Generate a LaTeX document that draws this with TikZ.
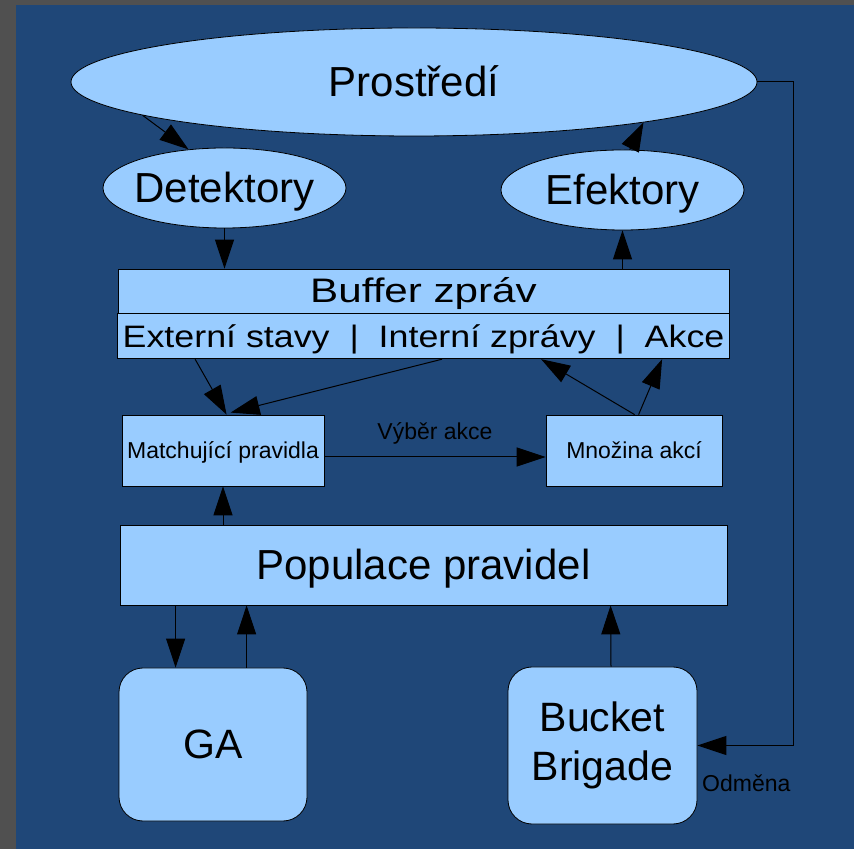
\documentclass[tikz,border=0pt]{standalone}
\usepackage{graphicx}
\usepackage{fontspec}
\setmainfont{Liberation Sans}
\usetikzlibrary{shapes.geometric, arrows.meta, positioning, calc}
\definecolor{SlideGray}{HTML}{505050}
\definecolor{SlideBlue}{HTML}{1F4778}
\definecolor{BoxBlue}{HTML}{99CCFF}
\tikzset{
    % Node styles
    ellnode/.style={
        ellipse,
        draw=black,
        fill=BoxBlue,
        line width=0.8pt,
        inner xsep=-20pt,
        inner ysep=0pt
    },
    flatbox/.style={
        rectangle,
        draw=black,
        fill=BoxBlue,
        line width=0.8pt,
        inner sep=0pt
    },
    roundbox/.style={
        rectangle,
        rounded corners=24pt,
        draw=black,
        fill=BoxBlue,
        line width=0.8pt,
        inner sep=0pt,
        align=center
    },
    % Text styles (box height = cap height)
    bigtext/.style={
        font=\fontsize{42}{50}\selectfont,
        text height=30pt,
        text depth=0pt
    },
    smalltext/.style={
        font=\fontsize{23}{27}\selectfont,
        text height=16.5pt,
        text depth=0pt
    },
    plainlabel/.style={
        smalltext,
        inner sep=0pt
    },
    % Arrow styles
    bigarrow/.style={
        -{Triangle[length=29pt,width=19pt]},
        line width=1pt,
        black
    }
}
\begin{document}
\begin{tikzpicture}[x=1pt,y=1pt]
    % Slide background
    \fill[SlideGray] (0,0) rectangle (854,849);
    \fill[SlideBlue] (16,0) rectangle (854,844);
    \useasboundingbox (0,0) rectangle (854,849);

    % Environment, sensors, effectors
    \node[ellnode, bigtext, minimum width=686pt, minimum height=108pt] (env) at (414,767) {Prostředí};
    \node[ellnode, bigtext, minimum width=243pt, minimum height=80pt] (det) at (224.5,661) {Detektory};
    \node[ellnode, bigtext, minimum width=243pt, minimum height=80pt] (eff) at (622.5,659) {Efektory};

    % Message buffer
    \node[flatbox, minimum width=611pt, minimum height=44pt, font=\fontsize{34}{40}\selectfont, text height=24pt, text depth=0pt] (buf) at (423.5,558) {\scalebox{1.24}[1]{Buffer zpráv}};
    \node[flatbox, minimum width=612pt, minimum height=45pt, font=\fontsize{31}{37}\selectfont, text height=22pt, text depth=0pt, below=0pt of buf] (slots) {\scalebox{1.155}[1]{Externí stavy\ \ |\ \ Interní zprávy\ \ |\ \ Akce}};

    % Rules
    \node[flatbox, smalltext, minimum width=202pt, minimum height=71pt] (match) at (223,398.5) {Matchující pravidla};
    \node[flatbox, smalltext, minimum width=176pt, minimum height=71pt] (acts) at (634,398.5) {Množina akcí};
    \node[flatbox, bigtext, minimum width=607pt, minimum height=80pt] (pop) at (423.5,284) {Populace pravidel};

    % Learning
    \node[roundbox, minimum width=188pt, minimum height=153pt, font=\fontsize{41}{49}\selectfont] (ga) at (213,104.5) {GA};
    \node[roundbox, minimum width=189pt, minimum height=157pt, font=\fontsize{41}{49}\selectfont] (bb) at (602.5,103.5) {Bucket\\Brigade};
    \coordinate (ret) at (793,0);

    % Connectors
    \draw[bigarrow] (env.187) -- (det.133);
    \draw[bigarrow] (det.south) -- (det.south |- buf.north);
    \draw[bigarrow] (eff.south |- buf.north) -- (eff.south);
    \draw[bigarrow] (eff.80) -- (env.350.5);
    \draw[bigarrow] (env.east) -- (env.east -| ret) |- (bb.east);
    \node[plainlabel, anchor=west] (reward) at (702,66) {Odměna};

    \draw[bigarrow] ([xshift=78pt]slots.south west) -- ([xshift=105pt]match.north west);
    \draw[bigarrow] ([xshift=325pt]slots.south west) -- ([xshift=109pt,yshift=2pt]match.north west);
    \draw[bigarrow] ([xshift=89pt]acts.north west) -- ([xshift=424pt]slots.south west);
    \draw[bigarrow] ([xshift=93pt]acts.north west) -- ([xshift=545pt]slots.south west);
    \draw[bigarrow] ([yshift=-6.5pt]match.east) -- node[plainlabel, midway, above=17pt] (pick) {Výběr akce} ([yshift=-6.5pt]acts.west);

    \draw[bigarrow] (match.south |- pop.north) -- (match.south);
    \draw[bigarrow] ([xshift=56pt]pop.south west) -- ([xshift=57pt]ga.north west);
    \draw[bigarrow] ([xshift=128pt]ga.north west) -- ([xshift=127pt]pop.south west);
    \draw[bigarrow] ([xshift=8.5pt]bb.north) -- ([xshift=491pt]pop.south west);
\end{tikzpicture}
\end{document}
